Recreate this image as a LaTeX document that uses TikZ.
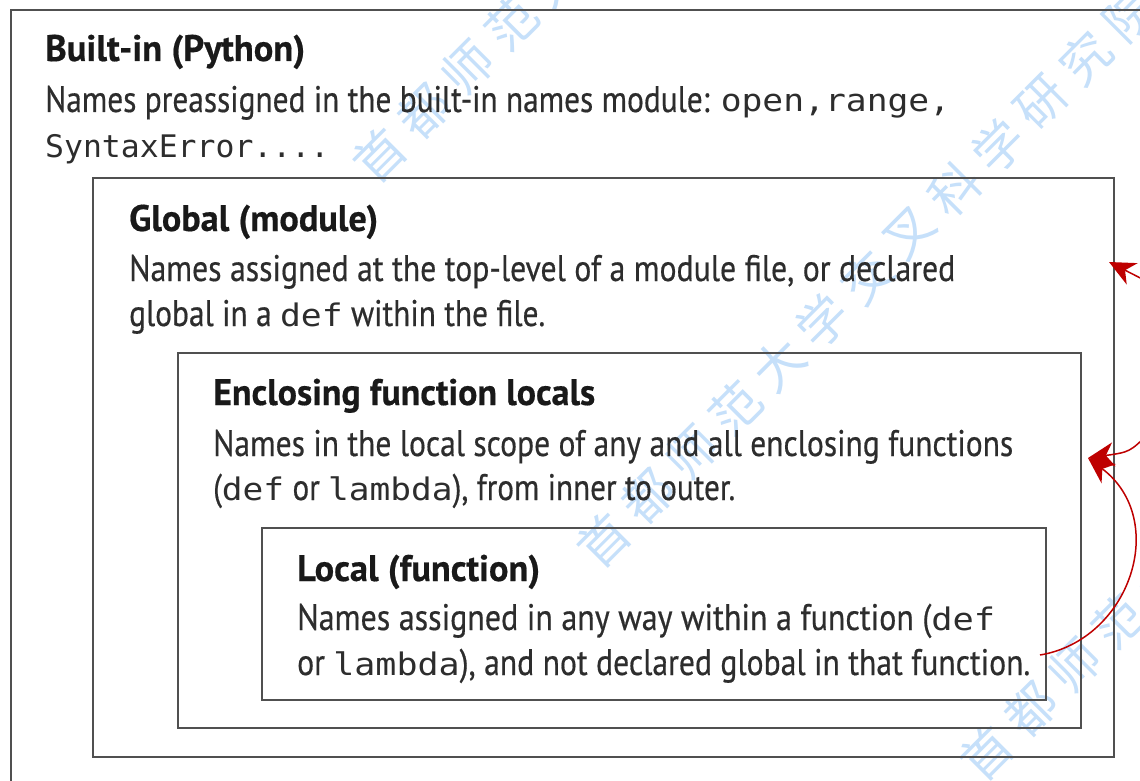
\documentclass[tikz,border=0pt]{standalone}
\usepackage{graphicx}
\usepackage{fontspec}
\setmainfont{PT Sans}[FakeStretch=0.76, FakeBold=0.4]
\setmonofont{DejaVu Sans Mono}[Scale=0.84]
\newfontfamily\cjk{Noto Sans CJK SC}
\usetikzlibrary{arrows.meta}
\definecolor{boxgray}{RGB}{80,80,80}
\definecolor{txt}{RGB}{45,45,45}
\definecolor{ttlc}{RGB}{25,25,25}
\definecolor{arrred}{RGB}{190,0,0}
\definecolor{wmblue}{RGB}{198,224,250}
\newcommand\fitw[2]{\resizebox{#1pt}{\height}{#2}}
\newcommand\wmark[3]{%
  \foreach \c [count=\i from 0] in {首,都,师,范,大,学,交,叉,科,学,研,究,院}{%
    \node[wm] (#1-\i) at ({#2+\i*43.8},{#3-\i*43.8}) {\c};}}
\begin{document}
\begin{tikzpicture}[x=1pt, y=-1pt,
  sbox/.style={draw=boxgray, line width=2.8pt, inner sep=0pt},
  ln/.style={anchor=base west, inner sep=0pt, text=txt, font=\fontsize{37pt}{44pt}\selectfont},
  ttl/.style={ln, text=ttlc, font=\fontsize{37pt}{44pt}\selectfont\bfseries},
  rarr/.style={draw=arrred, line width=1.5pt, -{Stealth[length=26pt, width=24pt, inset=8pt]}},
  wm/.style={inner sep=0pt, rotate=45, text=wmblue, font=\fontsize{50pt}{50pt}\cjk}]
\useasboundingbox (0,0) rectangle (1140,781);
\clip (0,0) rectangle (1140,781);
\fill[white] (0,0) rectangle (1140,781);
% watermark
\wmark{wa}{380}{155}
\wmark{wb}{604}{540}
\wmark{wc}{987}{753}
% scope boxes
\node[sbox, minimum width=1189pt, minimum height=820pt] (outer) at (605.5,420) {};
\node[sbox, minimum width=1021pt, minimum height=579pt] (global) at (603.5,467.5) {};
\node[sbox, minimum width=903pt, minimum height=375pt] (encl) at (629.5,540.5) {};
\node[sbox, minimum width=784pt, minimum height=172pt] (local) at (654,614) {};
% built-in
\node[ttl] (bt) at (45,61) {\fitw{260}{Built-in (Python)}};
\node[ln] (b1) at (45,112) {\fitw{905}{Names preassigned in the built-in names module: \texttt{open,range,}}};
\node[ln] (b2) at (45,158) {\fitw{284}{\texttt{SyntaxError....}}};
% global
\node[ttl] (gt) at (129,231) {\fitw{249}{Global (module)}};
\node[ln] (g1) at (129,281) {\fitw{826}{Names assigned at the top-level of a module file, or declared}};
\node[ln] (g2) at (129,326) {\fitw{416}{global in a \texttt{def} within the file.}};
% enclosing
\node[ttl] (et) at (213,405) {\fitw{382}{Enclosing function locals}};
\node[ln] (e1) at (213,456) {\fitw{800}{Names in the local scope of any and all enclosing functions}};
\node[ln] (e2) at (213,500) {\fitw{522}{(\texttt{def} or \texttt{lambda}), from inner to outer.}};
% local
\node[ttl] (lt) at (297,581) {\fitw{243}{Local (function)}};
\node[ln] (l1) at (297,630) {\fitw{698}{Names assigned in any way within a function (\texttt{def}}};
\node[ln] (l2) at (297,675) {\fitw{733}{or \texttt{lambda}), and not declared global in that function.}};
% arrows
\coordinate (a1from) at (1152,284);
\coordinate (a1to) at (1109,262);
\coordinate (a2from) at (1150,432);
\coordinate (a2to) at (1088,458);
\coordinate (a3from) at (1040,655);
\draw[rarr] (a1from) -- (a1to);
\draw[rarr] (a2from) .. controls (1130,452) .. (a2to);
\draw[rarr] (a3from) .. controls (1130,640) and (1170,520) .. (a2to);
\end{tikzpicture}
\end{document}
